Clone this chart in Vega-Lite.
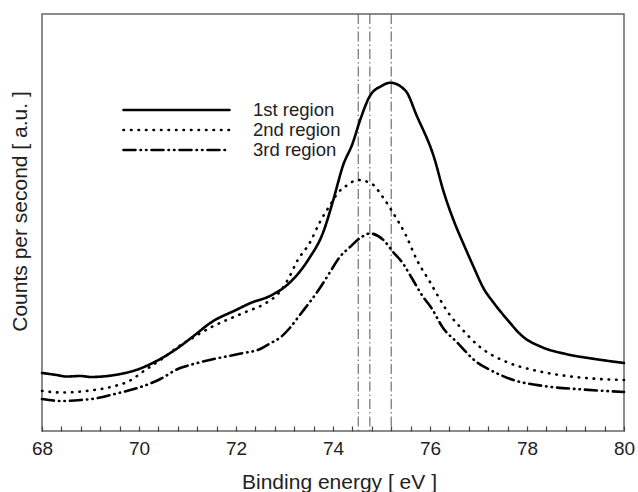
{
  "$schema": "https://vega.github.io/schema/vega-lite/v6.json",
  "width": 582,
  "height": 417,
  "autosize": {"type": "none"},
  "padding": {"left": 42, "top": 14, "right": 14, "bottom": 61},
  "config": {
    "view": {"stroke": "#666666", "strokeWidth": 1.5},
    "font": "Liberation Sans"
  },
  "datasets": {
    "refs": [{"energy": 74.52}, {"energy": 74.76}, {"energy": 75.2}],
    "curves": [
      {"series": "1st region", "energy": 68.0, "counts": 58},
      {"series": "1st region", "energy": 68.3, "counts": 56},
      {"series": "1st region", "energy": 68.5, "counts": 54.5},
      {"series": "1st region", "energy": 68.8, "counts": 55},
      {"series": "1st region", "energy": 69.0, "counts": 54},
      {"series": "1st region", "energy": 69.5, "counts": 56},
      {"series": "1st region", "energy": 70.0, "counts": 62},
      {"series": "1st region", "energy": 70.4, "counts": 71},
      {"series": "1st region", "energy": 70.8, "counts": 83},
      {"series": "1st region", "energy": 71.1, "counts": 94},
      {"series": "1st region", "energy": 71.5, "counts": 109},
      {"series": "1st region", "energy": 72.0, "counts": 121},
      {"series": "1st region", "energy": 72.3, "counts": 128},
      {"series": "1st region", "energy": 72.7, "counts": 135},
      {"series": "1st region", "energy": 73.1, "counts": 148},
      {"series": "1st region", "energy": 73.5, "counts": 172},
      {"series": "1st region", "energy": 73.8, "counts": 199},
      {"series": "1st region", "energy": 74.0, "counts": 230},
      {"series": "1st region", "energy": 74.21, "counts": 266},
      {"series": "1st region", "energy": 74.4, "counts": 287},
      {"series": "1st region", "energy": 74.56, "counts": 311},
      {"series": "1st region", "energy": 74.76, "counts": 335},
      {"series": "1st region", "energy": 75.0, "counts": 345},
      {"series": "1st region", "energy": 75.18, "counts": 348.3},
      {"series": "1st region", "energy": 75.5, "counts": 340},
      {"series": "1st region", "energy": 75.72, "counts": 316},
      {"series": "1st region", "energy": 76.1, "counts": 271},
      {"series": "1st region", "energy": 76.27, "counts": 241},
      {"series": "1st region", "energy": 76.5, "counts": 209},
      {"series": "1st region", "energy": 76.7, "counts": 186},
      {"series": "1st region", "energy": 76.9, "counts": 164},
      {"series": "1st region", "energy": 77.1, "counts": 143},
      {"series": "1st region", "energy": 77.3, "counts": 129},
      {"series": "1st region", "energy": 77.6, "counts": 111},
      {"series": "1st region", "energy": 77.9, "counts": 95},
      {"series": "1st region", "energy": 78.3, "counts": 84},
      {"series": "1st region", "energy": 78.8, "counts": 77},
      {"series": "1st region", "energy": 79.4, "counts": 72},
      {"series": "1st region", "energy": 80.0, "counts": 68},
      {"series": "2nd region", "energy": 68.0, "counts": 40},
      {"series": "2nd region", "energy": 68.4, "counts": 38.5},
      {"series": "2nd region", "energy": 69.0, "counts": 40.5},
      {"series": "2nd region", "energy": 69.5, "counts": 45},
      {"series": "2nd region", "energy": 69.8, "counts": 50},
      {"series": "2nd region", "energy": 70.1, "counts": 60},
      {"series": "2nd region", "energy": 70.5, "counts": 73},
      {"series": "2nd region", "energy": 70.8, "counts": 84},
      {"series": "2nd region", "energy": 71.1, "counts": 93},
      {"series": "2nd region", "energy": 71.5, "counts": 104},
      {"series": "2nd region", "energy": 72.2, "counts": 119},
      {"series": "2nd region", "energy": 72.6, "counts": 127.5},
      {"series": "2nd region", "energy": 72.9, "counts": 139},
      {"series": "2nd region", "energy": 73.1, "counts": 154},
      {"series": "2nd region", "energy": 73.25, "counts": 169},
      {"series": "2nd region", "energy": 73.53, "counts": 189},
      {"series": "2nd region", "energy": 73.73, "counts": 209},
      {"series": "2nd region", "energy": 73.94, "counts": 226},
      {"series": "2nd region", "energy": 74.1, "counts": 238},
      {"series": "2nd region", "energy": 74.3, "counts": 246},
      {"series": "2nd region", "energy": 74.51, "counts": 251},
      {"series": "2nd region", "energy": 74.79, "counts": 247.5},
      {"series": "2nd region", "energy": 75.04, "counts": 233},
      {"series": "2nd region", "energy": 75.24, "counts": 218},
      {"series": "2nd region", "energy": 75.5, "counts": 196},
      {"series": "2nd region", "energy": 75.73, "counts": 171},
      {"series": "2nd region", "energy": 76.0, "counts": 149},
      {"series": "2nd region", "energy": 76.2, "counts": 132},
      {"series": "2nd region", "energy": 76.41, "counts": 116},
      {"series": "2nd region", "energy": 76.62, "counts": 104},
      {"series": "2nd region", "energy": 77.03, "counts": 84},
      {"series": "2nd region", "energy": 77.58, "counts": 69},
      {"series": "2nd region", "energy": 78.13, "counts": 61},
      {"series": "2nd region", "energy": 78.82, "counts": 55},
      {"series": "2nd region", "energy": 79.5, "counts": 52},
      {"series": "2nd region", "energy": 80.0, "counts": 51},
      {"series": "3rd region", "energy": 68.0, "counts": 32},
      {"series": "3rd region", "energy": 68.4, "counts": 30},
      {"series": "3rd region", "energy": 68.8, "counts": 31},
      {"series": "3rd region", "energy": 69.1, "counts": 32.5},
      {"series": "3rd region", "energy": 69.5, "counts": 37},
      {"series": "3rd region", "energy": 70.0, "counts": 43.5},
      {"series": "3rd region", "energy": 70.4, "counts": 51},
      {"series": "3rd region", "energy": 70.85, "counts": 63},
      {"series": "3rd region", "energy": 71.05, "counts": 66},
      {"series": "3rd region", "energy": 71.5, "counts": 71.5},
      {"series": "3rd region", "energy": 72.1, "counts": 77.5},
      {"series": "3rd region", "energy": 72.5, "counts": 82},
      {"series": "3rd region", "energy": 72.7, "counts": 87.5},
      {"series": "3rd region", "energy": 72.9, "counts": 93},
      {"series": "3rd region", "energy": 73.1, "counts": 102.5},
      {"series": "3rd region", "energy": 73.3, "counts": 115},
      {"series": "3rd region", "energy": 73.73, "counts": 143},
      {"series": "3rd region", "energy": 73.94, "counts": 159},
      {"series": "3rd region", "energy": 74.14, "counts": 174},
      {"series": "3rd region", "energy": 74.35, "counts": 184},
      {"series": "3rd region", "energy": 74.59, "counts": 194},
      {"series": "3rd region", "energy": 74.76, "counts": 197.5},
      {"series": "3rd region", "energy": 75.04, "counts": 191},
      {"series": "3rd region", "energy": 75.24, "counts": 179},
      {"series": "3rd region", "energy": 75.45, "counts": 167},
      {"series": "3rd region", "energy": 75.6, "counts": 155},
      {"series": "3rd region", "energy": 75.86, "counts": 134},
      {"series": "3rd region", "energy": 76.03, "counts": 123},
      {"series": "3rd region", "energy": 76.27, "counts": 103},
      {"series": "3rd region", "energy": 76.55, "counts": 89},
      {"series": "3rd region", "energy": 76.96, "counts": 69},
      {"series": "3rd region", "energy": 77.24, "counts": 61},
      {"series": "3rd region", "energy": 77.72, "counts": 51},
      {"series": "3rd region", "energy": 78.34, "counts": 45},
      {"series": "3rd region", "energy": 79.16, "counts": 41.5},
      {"series": "3rd region", "energy": 80.0, "counts": 39}
    ]
  },
  "layer": [
    {
      "data": {"name": "refs"},
      "mark": {"type": "rule", "color": "#555555", "strokeWidth": 1, "strokeDash": [10, 3, 1.5, 3]},
      "encoding": {
        "x": {"field": "energy", "type": "quantitative", "title": "Binding energy [ eV ]"}
      }
    },
    {
      "data": {"name": "curves"},
      "mark": {"type": "line", "color": "black", "strokeWidth": 2.6, "strokeCap": "round", "interpolate": "monotone"},
      "encoding": {
        "x": {
          "field": "energy",
          "type": "quantitative",
          "title": "Binding energy [ eV ]",
          "scale": {"domain": [68, 80], "nice": false, "zero": false},
          "axis": {
            "values": [68, 68.4, 68.8, 69.2, 69.6, 70, 70.4, 70.8, 71.2, 71.6, 72, 72.4, 72.8, 73.2, 73.6, 74, 74.4, 74.8, 75.2, 75.6, 76, 76.4, 76.8, 77.2, 77.6, 78, 78.4, 78.8, 79.2, 79.6, 80],
            "tickCount": 40,
            "labelExpr": "abs(datum.value % 2) < 0.001 ? format(datum.value, 'd') : ''",
            "grid": false,
            "domain": false,
            "offset": -5,
            "tickSize": 5,
            "tickColor": "#444444",
            "tickWidth": 1.2,
            "labelFontSize": 19,
            "labelColor": "#222222",
            "labelBaseline": "alphabetic",
            "labelPadding": 23,
            "labelFlush": false,
            "labelOverlap": false,
            "titleFontSize": 21,
            "titleFontWeight": "normal",
            "titleColor": "#222222",
            "titleBaseline": "alphabetic",
            "titleX": 297,
            "titleY": 62
          }
        },
        "y": {
          "field": "counts",
          "type": "quantitative",
          "scale": {"domain": [0, 417], "nice": false, "zero": false},
          "axis": {
            "title": "Counts per second [ a.u. ]",
            "labels": false,
            "ticks": false,
            "grid": false,
            "domain": false,
            "titleFontSize": 21,
            "titleFontWeight": "normal",
            "titleColor": "#222222",
            "titleBaseline": "alphabetic",
            "titleAlign": "center",
            "titleAngle": -90,
            "titleX": -16,
            "titleY": 197
          }
        },
        "strokeDash": {
          "field": "series",
          "type": "nominal",
          "scale": {
            "domain": ["1st region", "2nd region", "3rd region"],
            "range": [[1, 0], [0.5, 7], [12, 5, 0.5, 5, 0.5, 5]]
          },
          "legend": {
            "orient": "none",
            "legendX": 80,
            "legendY": 86,
            "title": null,
            "padding": 0,
            "symbolType": "stroke",
            "symbolSize": 11236,
            "symbolStrokeWidth": 2.6,
            "symbolStrokeColor": "black",
            "clipHeight": 20,
            "rowPadding": 0,
            "labelFontSize": 18.5,
            "labelOffset": 22,
            "labelColor": "#222222",
            "encode": {"symbols": {"update": {"strokeCap": {"value": "round"}}}}
          }
        }
      }
    }
  ]
}
